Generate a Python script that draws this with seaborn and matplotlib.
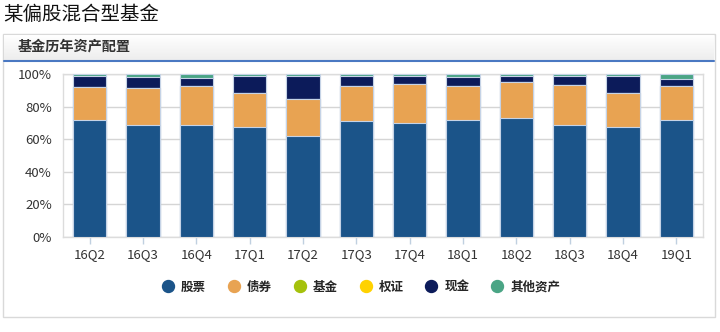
import numpy as np
import pandas as pd
import matplotlib
matplotlib.use("Agg")
import matplotlib.pyplot as plt
from matplotlib.lines import Line2D
from matplotlib.patches import Rectangle
import seaborn as sns

quarters = ["16Q2", "16Q3", "16Q4", "17Q1", "17Q2", "17Q3", "17Q4", "18Q1", "18Q2", "18Q3", "18Q4", "19Q1"]
stock = [71.7, 68.6, 69.0, 67.5, 62.0, 71.0, 69.8, 72.0, 73.0, 69.0, 67.2, 72.0]
bond = [20.5, 22.9, 23.6, 20.6, 22.4, 21.6, 23.8, 20.6, 22.0, 24.0, 21.1, 20.6]
fund = [0.0] * 12
warrant = [0.0] * 12
cash = [6.6, 6.5, 4.8, 10.5, 14.4, 6.2, 5.0, 5.4, 3.8, 5.8, 10.5, 4.5]
other = [1.2, 2.0, 2.6, 1.4, 1.2, 1.2, 1.4, 2.0, 1.2, 1.2, 1.2, 2.9]

series_names = ["股票", "债券", "基金", "权证", "现金", "其他资产"]
colors = ["#1b5489", "#e8a352", "#a5c10c", "#ffd200", "#0c1b5a", "#4aa585"]

sns.set_theme(style="white")
plt.rcParams["font.family"] = ["Noto Sans CJK SC", "DejaVu Sans"]

df = pd.DataFrame({"q": quarters, "股票": stock, "债券": bond, "基金": fund,
                   "权证": warrant, "现金": cash, "其他资产": other})
cum = df[series_names].cumsum(axis=1)

W, H = 720, 332
fig = plt.figure(figsize=(W / 100, H / 100), dpi=100)
fig.patch.set_facecolor("white")

# Title
fig.text(3 / W, 1 - 14 / H, "某偏股混合型基金", fontsize=14, va="center", ha="left", color="#111111")

# Panel box
panel = Rectangle((3 / W, 1 - 317 / H), 712 / W, 283 / H, transform=fig.transFigure,
                  facecolor="none", edgecolor="#d9d9d9", lw=1.0, zorder=-5)
fig.patches.append(panel)
# Header band
grad_ax = fig.add_axes([4 / W, 1 - 60 / H, 710 / W, 25 / H], zorder=-3)
grad = np.linspace(1.0, 0.93, 50).reshape(-1, 1)
grad_ax.imshow(np.dstack([grad, grad, grad]), aspect="auto", extent=[0, 1, 0, 1])
grad_ax.axis("off")
fig.add_artist(Line2D([4 / W, 714 / W], [1 - 61 / H, 1 - 61 / H], transform=fig.transFigure,
                      color="#4a78c2", lw=1.5))
fig.text(18 / W, 1 - 47 / H, "基金历年资产配置", fontsize=10.2, fontweight="bold",
         va="center", ha="left", color="#333333")

# Plot area
ax = fig.add_axes([63 / W, 1 - 237 / H, 640 / W, 163 / H], zorder=2)
for i in range(len(series_names) - 1, -1, -1):
    name = series_names[i]
    sns.barplot(x=quarters, y=cum[name].values, color=colors[i], ax=ax, width=0.62,
                edgecolor="#c5d3e6", linewidth=0.8, saturation=1.0, zorder=3)

ax.set_ylim(0, 100)
ax.set_xlim(-0.5, len(quarters) - 0.5)
ax.set_yticks([0, 20, 40, 60, 80, 100])
ax.set_yticklabels([f"{v}%" for v in [0, 20, 40, 60, 80, 100]])
ax.yaxis.grid(True, color="#d5d5d5", lw=1.0)
ax.set_axisbelow(True)
for s in ax.spines.values():
    s.set_color("#dcdcdc")
    s.set_linewidth(1.0)
ax.tick_params(axis="y", length=0, labelsize=9.5, colors="#333333", pad=8)
ax.tick_params(axis="x", length=5, width=1, color="#c0d0e0", labelsize=9.5,
               labelcolor="#333333", pad=3, bottom=True)
ax.set_xlabel("")
ax.set_ylabel("")

handles = [Line2D([0], [0], marker="o", linestyle="", markersize=8.6,
                  markerfacecolor=c, markeredgecolor=c) for c in colors]
leg = fig.legend(handles, series_names, loc="center", bbox_to_anchor=(361 / W, 1 - 287 / H),
                 ncol=6, frameon=False, handlelength=1.0, handletextpad=0.55,
                 columnspacing=1.72, prop={"size": 9, "weight": "bold"})

fig.savefig("out.png", dpi=100, facecolor="white")
